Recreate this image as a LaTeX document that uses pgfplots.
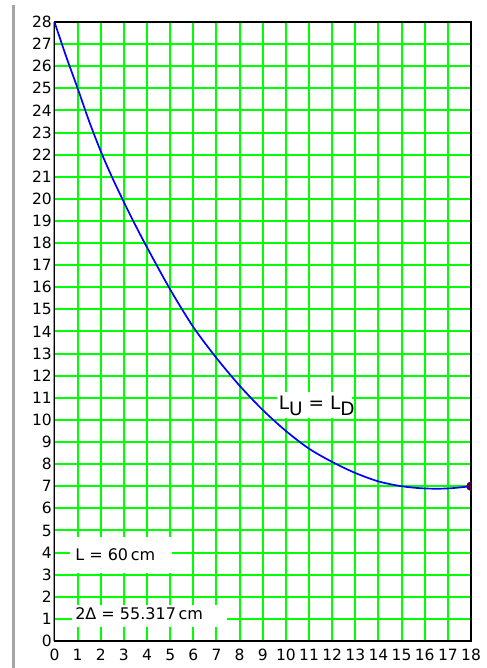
\documentclass[border=0pt]{standalone}
\usepackage{pgfplots}
\pgfplotsset{compat=1.18}
\usepackage{fontspec}
\setmainfont{DejaVu Sans}
\definecolor{gridgreen}{RGB}{0,255,0}
\definecolor{dotpurple}{RGB}{75,0,75}
\definecolor{leftgray}{RGB}{165,165,165}
\begin{document}
\begin{tikzpicture}[x=1bp,y=1bp]
\begin{axis}[
  at={(0,0)}, anchor=south west,
  scale only axis, width=416.5bp, height=619bp,
  xmin=0, xmax=18, ymin=0, ymax=28,
  xtick={0,...,18}, ytick={0,...,28},
  grid=major,
  every axis grid/.style={draw=gridgreen, line width=2bp},
  major grid style={draw=gridgreen, line width=2bp},
  axis line style={black, line width=1.8bp},
  major tick length=0pt,
  /pgf/number format/assume math mode=true,
  ticklabel style={font=\fontsize{15.5bp}{17bp}\selectfont, inner sep=0pt},
  yticklabel style={anchor=east, xshift=-2.5bp},
  xticklabel style={anchor=north, yshift=-8bp},
  clip marker paths=true,
]
\addplot[blue, line width=1.7bp, smooth, tension=0.5] coordinates {
(0,28) (0.5,26.45) (1,25.0) (1.5,23.5) (2,22.15) (2.5,20.95) (3,19.85)
(3.5,18.8) (4,17.8) (5,15.9) (6,14.2) (7,12.8) (8,11.55) (9,10.45)
(10,9.5) (11,8.7) (12,8.1) (13,7.6) (14,7.22) (15,7.0) (16,6.9) (17,6.9) (18,7.0)
};
\addplot[only marks, mark=*, mark size=4.5bp, dotpurple] coordinates {(18,7)};
\fill[white] (axis cs:0.67,3.08) rectangle (axis cs:5.08,4.71);
\node[anchor=west, inner sep=0pt, font=\fontsize{16bp}{18bp}\selectfont] at (axis cs:0.89,3.9) {L = 60\,cm};
\fill[white] (axis cs:0.76,0.63) rectangle (axis cs:7.45,1.63);
\node[anchor=west, inner sep=0pt, font=\fontsize{16bp}{18bp}\selectfont] at (axis cs:0.89,1.25) {2Δ = 55.317\,cm};
\fill[white] (axis cs:9.61,10.1) rectangle (axis cs:12.85,11.27);
\node[anchor=base west, inner sep=0pt, font=\fontsize{18.5bp}{20bp}\selectfont] at (axis cs:9.69,10.48) {L\raisebox{-6bp}{U} = L\raisebox{-6bp}{D}};
\end{axis}
\draw[leftgray, line width=2.5bp] (-40.8,-27) -- (-40.8,636);
\pgfresetboundingbox
\path[use as bounding box] (-54.5,-27) rectangle (432.5,641);
\end{tikzpicture}
\end{document}
